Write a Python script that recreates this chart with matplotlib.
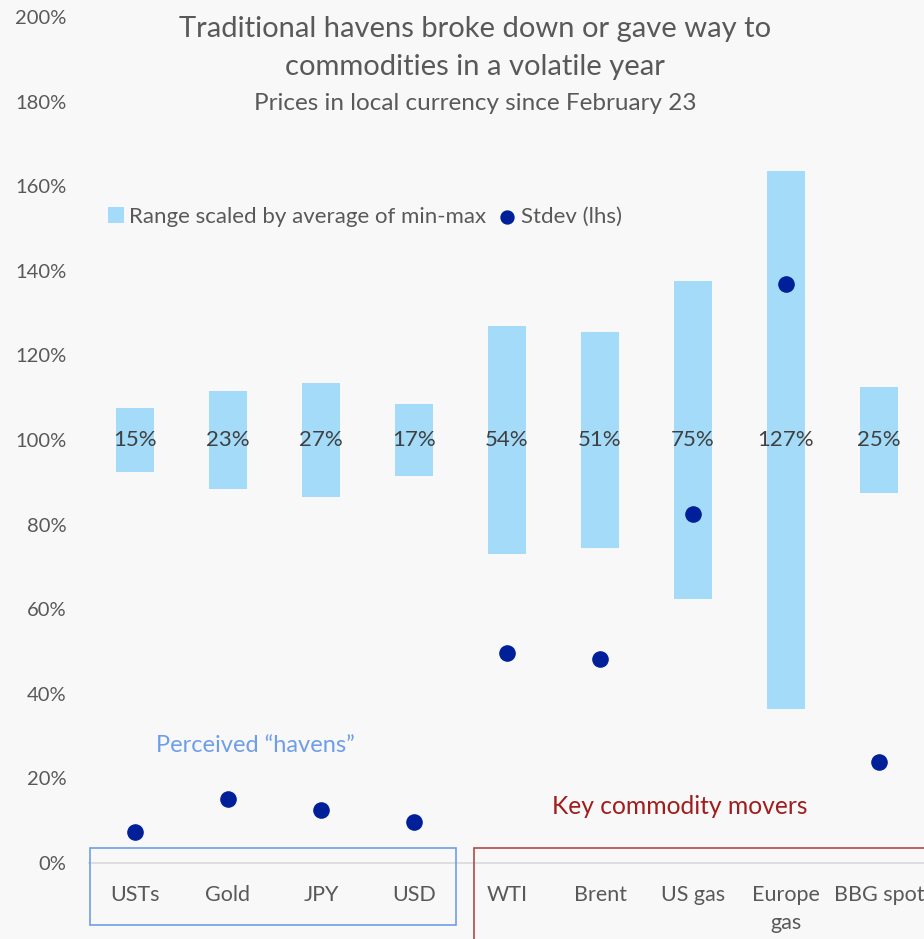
import matplotlib.pyplot as plt
from matplotlib.patches import Rectangle

categories = ['USTs', 'Gold', 'JPY', 'USD', 'WTI', 'Brent', 'US gas', 'Europe\ngas', 'BBG spot']
range_low = [92.5, 88.5, 86.5, 91.5, 73.0, 74.5, 62.5, 36.5, 87.5]
range_high = [107.5, 111.5, 113.5, 108.5, 127.0, 125.5, 137.5, 163.5, 112.5]
range_labels = ['15%', '23%', '27%', '17%', '54%', '51%', '75%', '127%', '25%']
stdev = [7.3, 15.1, 12.5, 9.7, 49.6, 48.2, 82.5, 136.9, 23.9]
yticks = [0, 20, 40, 60, 80, 100, 120, 140, 160, 180, 200]

bg = '#f8f8f8'
txt = '#595959'
bar_col = '#a3dbf8'
dot_col = '#00209a'

plt.rcParams['font.family'] = ['Lato', 'DejaVu Sans']

fig = plt.figure(figsize=(9.24, 9.39), dpi=100, facecolor=bg)
# axes: x from 88.5 to 925.5 px, y 0% at 863 px, 200% at 17 px
ax = fig.add_axes([88.5 / 924, (939 - 863) / 939, 837 / 924, 846 / 939])
ax.set_facecolor(bg)

x = list(range(len(categories)))
heights = [h - l for h, l in zip(range_high, range_low)]
bars = ax.bar(x, heights, bottom=range_low, width=0.4, color=bar_col, zorder=2)
dots = ax.scatter(x, stdev, s=120, color=dot_col, zorder=3)

for i, lab in enumerate(range_labels):
    ax.text(i, 100, lab, ha='center', va='center', fontsize=16, color='#404040', zorder=4)

ax.set_xlim(-0.5, len(categories) - 0.5)
ax.set_ylim(0, 200)
ax.set_yticks(yticks)
ax.set_yticklabels([f'{v}%' for v in yticks])
ax.set_xticks(x)
ax.set_xticklabels(categories, linespacing=1.5)
ax.tick_params(axis='y', length=0, pad=16, labelsize=14.5, labelcolor=txt)
ax.tick_params(axis='x', length=0, pad=16, labelsize=15.5, labelcolor=txt)
for s in ['left', 'right', 'top']:
    ax.spines[s].set_visible(False)
ax.spines['bottom'].set_color('#d9d9d9')
ax.spines['bottom'].set_linewidth(1.2)

ax.legend([bars, dots], ['Range scaled by average of min-max', 'Stdev (lhs)'],
          loc='center left', bbox_to_anchor=(0.018, 1 - (217 - 17) / 846), ncol=2, frameon=False,
          fontsize=16, labelcolor=txt, handlelength=0.7, handletextpad=0.25,
          columnspacing=0.6, borderaxespad=0.0, borderpad=0.2, markerscale=0.85)

fig.text(475 / 924, 1 - 29 / 939, 'Traditional havens broke down or gave way to',
         ha='center', va='center', fontsize=21, color=txt)
fig.text(475 / 924, 1 - 67 / 939, 'commodities in a volatile year',
         ha='center', va='center', fontsize=21, color=txt)
fig.text(475 / 924, 1 - 103 / 939, 'Prices in local currency since February 23',
         ha='center', va='center', fontsize=17.5, color=txt)

fig.text(255 / 924, 1 - 745 / 939, 'Perceived \u201chavens\u201d', ha='center', va='center',
         fontsize=17, color='#6f9ee8')
fig.text(680 / 924, 1 - 807 / 939, 'Key commodity movers', ha='center', va='center',
         fontsize=17.7, color='#a11d1d')

fig.patches.append(Rectangle((90 / 924, 1 - 925 / 939), 366 / 924, 77 / 939,
                             transform=fig.transFigure, fill=False, edgecolor='#6f9ee8', lw=1.2))
fig.patches.append(Rectangle((474 / 924, -0.01), 460 / 924, (939 - 848) / 939 + 0.01,
                             transform=fig.transFigure, fill=False, edgecolor='#b04a4a', lw=1.2))

fig.savefig('out.png', dpi=100, facecolor=bg)
